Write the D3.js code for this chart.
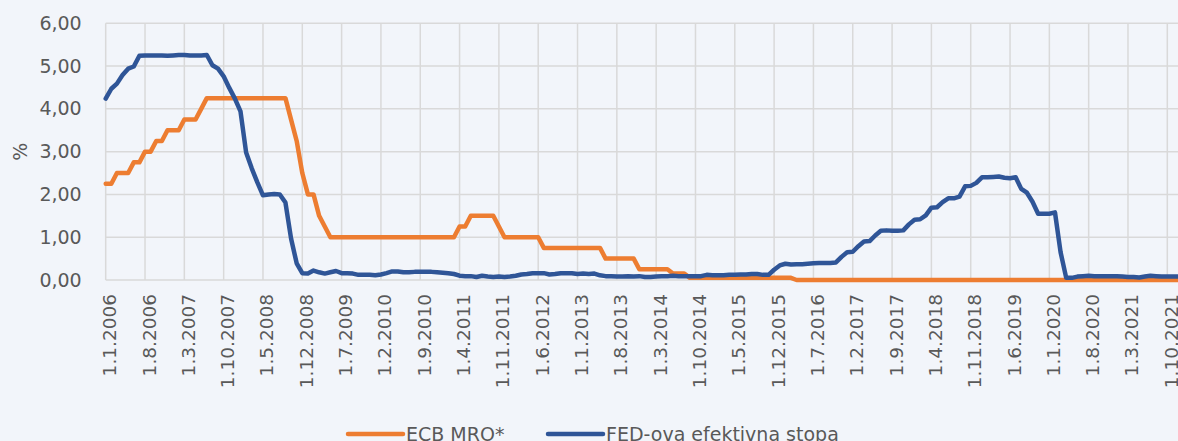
<!DOCTYPE html>
<html>
<head>
<meta charset="utf-8">
<script src="https://cdn.jsdelivr.net/npm/d3@7"></script>
<style>
  html, body { margin: 0; padding: 0; background: #f2f5fa; overflow: hidden; }
  svg { display: block; }
  text { font-family: "DejaVu Sans", sans-serif; fill: #595959; }
</style>
</head>
<body>
<div id="chart"></div>
<script>
// mjesečni podaci, siječanj 2006 – prosinac 2021
const months = d3.timeMonth.range(new Date(2006, 0, 1), new Date(2022, 0, 1));
const fmt = d => `1.${d.getMonth() + 1}.${d.getFullYear()}`;
const categories = months.map(fmt);

const tickLabels = [
  '1.1.2006', '1.8.2006', '1.3.2007', '1.10.2007', '1.5.2008', '1.12.2008', '1.7.2009',
  '1.2.2010', '1.9.2010', '1.4.2011', '1.11.2011', '1.6.2012', '1.1.2013', '1.8.2013',
  '1.3.2014', '1.10.2014', '1.5.2015', '1.12.2015', '1.7.2016', '1.2.2017', '1.9.2017',
  '1.4.2018', '1.11.2018', '1.6.2019', '1.1.2020', '1.8.2020', '1.3.2021', '1.10.2021'
];
const yTicks = [0, 1, 2, 3, 4, 5, 6];

const ecbMro = [
  2.25, 2.25, 2.50, 2.50, 2.50, 2.75, 2.75, 3.00, 3.00, 3.25, 3.25, 3.50, // 2006
  3.50, 3.50, 3.75, 3.75, 3.75, 4.00, 4.25, 4.25, 4.25, 4.25, 4.25, 4.25, // 2007
  4.25, 4.25, 4.25, 4.25, 4.25, 4.25, 4.25, 4.25, 4.25, 3.75, 3.25, 2.50, // 2008
  2.00, 2.00, 1.50, 1.25, 1.00, 1.00, 1.00, 1.00, 1.00, 1.00, 1.00, 1.00, // 2009
  1.00, 1.00, 1.00, 1.00, 1.00, 1.00, 1.00, 1.00, 1.00, 1.00, 1.00, 1.00, // 2010
  1.00, 1.00, 1.00, 1.25, 1.25, 1.50, 1.50, 1.50, 1.50, 1.50, 1.25, 1.00, // 2011
  1.00, 1.00, 1.00, 1.00, 1.00, 1.00, 0.75, 0.75, 0.75, 0.75, 0.75, 0.75, // 2012
  0.75, 0.75, 0.75, 0.75, 0.75, 0.50, 0.50, 0.50, 0.50, 0.50, 0.50, 0.25, // 2013
  0.25, 0.25, 0.25, 0.25, 0.25, 0.15, 0.15, 0.15, 0.05, 0.05, 0.05, 0.05, // 2014
  0.05, 0.05, 0.05, 0.05, 0.05, 0.05, 0.05, 0.05, 0.05, 0.05, 0.05, 0.05, // 2015
  0.05, 0.05, 0.05, 0.00, 0.00, 0.00, 0.00, 0.00, 0.00, 0.00, 0.00, 0.00, // 2016
  0.00, 0.00, 0.00, 0.00, 0.00, 0.00, 0.00, 0.00, 0.00, 0.00, 0.00, 0.00, // 2017
  0.00, 0.00, 0.00, 0.00, 0.00, 0.00, 0.00, 0.00, 0.00, 0.00, 0.00, 0.00, // 2018
  0.00, 0.00, 0.00, 0.00, 0.00, 0.00, 0.00, 0.00, 0.00, 0.00, 0.00, 0.00, // 2019
  0.00, 0.00, 0.00, 0.00, 0.00, 0.00, 0.00, 0.00, 0.00, 0.00, 0.00, 0.00, // 2020
  0.00, 0.00, 0.00, 0.00, 0.00, 0.00, 0.00, 0.00, 0.00, 0.00, 0.00, 0.00  // 2021
];

const fedRate = [
  4.24, 4.47, 4.59, 4.79, 4.94, 4.99, 5.24, 5.25, 5.25, 5.25, 5.25, 5.24, // 2006
  5.25, 5.26, 5.26, 5.25, 5.25, 5.25, 5.26, 5.02, 4.94, 4.76, 4.49, 4.24, // 2007
  3.94, 2.98, 2.61, 2.28, 1.98, 2.00, 2.01, 2.00, 1.81, 0.97, 0.39, 0.16, // 2008
  0.15, 0.22, 0.18, 0.15, 0.18, 0.21, 0.16, 0.16, 0.15, 0.12, 0.12, 0.12, // 2009
  0.11, 0.13, 0.16, 0.20, 0.20, 0.18, 0.18, 0.19, 0.19, 0.19, 0.19, 0.18, // 2010
  0.17, 0.16, 0.14, 0.10, 0.09, 0.09, 0.07, 0.10, 0.08, 0.07, 0.08, 0.07, // 2011
  0.08, 0.10, 0.13, 0.14, 0.16, 0.16, 0.16, 0.13, 0.14, 0.16, 0.16, 0.16, // 2012
  0.14, 0.15, 0.14, 0.15, 0.11, 0.09, 0.09, 0.08, 0.08, 0.09, 0.08, 0.09, // 2013
  0.07, 0.07, 0.08, 0.09, 0.09, 0.10, 0.09, 0.09, 0.09, 0.09, 0.09, 0.12, // 2014
  0.11, 0.11, 0.11, 0.12, 0.12, 0.13, 0.13, 0.14, 0.14, 0.12, 0.12, 0.24, // 2015
  0.34, 0.38, 0.36, 0.37, 0.37, 0.38, 0.39, 0.40, 0.40, 0.40, 0.41, 0.54, // 2016
  0.65, 0.66, 0.79, 0.90, 0.91, 1.04, 1.15, 1.16, 1.15, 1.15, 1.16, 1.30, // 2017
  1.41, 1.42, 1.51, 1.69, 1.70, 1.82, 1.91, 1.91, 1.95, 2.19, 2.20, 2.27, // 2018
  2.40, 2.40, 2.41, 2.42, 2.39, 2.38, 2.40, 2.13, 2.04, 1.83, 1.55, 1.55, // 2019
  1.55, 1.58, 0.65, 0.05, 0.05, 0.08, 0.09, 0.10, 0.09, 0.09, 0.09, 0.09, // 2020
  0.09, 0.08, 0.07, 0.07, 0.06, 0.08, 0.10, 0.09, 0.08, 0.08, 0.08, 0.08  // 2021
];

const seriesNames = ['ECB MRO*', 'FED-ova efektivna stopa'];
const seriesColors = ['#ed7d31', '#2f5597'];

// dimenzije
const W = 1178, H = 441;
const step = 5.617;
const plotLeft = 105.7, plotTop = 23.3, plotBottom = 280;

const svg = d3.select('#chart').append('svg')
  .attr('width', W)
  .attr('height', H);

const x = d3.scalePoint()
  .domain(categories)
  .range([plotLeft, plotLeft + step * (categories.length - 1)]);

const y = d3.scaleLinear()
  .domain([0, 6])
  .range([plotBottom, plotTop]);

const comma = v => d3.format('.2f')(v).replace('.', ',');

// mreža
const grid = svg.append('g').attr('stroke', '#d9d9d9').attr('stroke-width', 1.5);
grid.selectAll('line.h').data(yTicks).join('line')
  .attr('class', 'h')
  .attr('x1', plotLeft).attr('x2', W)
  .attr('y1', d => y(d)).attr('y2', d => y(d));
grid.selectAll('line.v').data(tickLabels).join('line')
  .attr('class', 'v')
  .attr('x1', d => x(d)).attr('x2', d => x(d))
  .attr('y1', plotTop).attr('y2', plotBottom);

// os y
const yAxis = svg.append('g')
  .attr('transform', `translate(${plotLeft - 24},0)`)
  .call(d3.axisLeft(y).tickValues(yTicks).tickFormat(comma).tickSize(0).tickPadding(0));
yAxis.select('.domain').remove();
yAxis.selectAll('text')
  .attr('font-family', '"DejaVu Sans", sans-serif')
  .attr('font-size', 19)
  .attr('fill', '#595959');

svg.append('text')
  .attr('transform', `translate(20,${(plotTop + plotBottom) / 2}) rotate(-90)`)
  .attr('text-anchor', 'middle')
  .attr('dy', '0.35em')
  .attr('font-size', 19)
  .text('%');

// os x, zarotirane oznake
const xAxis = svg.append('g')
  .attr('transform', `translate(0,${plotBottom})`)
  .call(d3.axisBottom(x).tickValues(tickLabels).tickSize(0).tickPadding(0));
xAxis.select('.domain').remove();
xAxis.selectAll('text')
  .attr('font-family', '"DejaVu Sans", sans-serif')
  .attr('font-size', 18.5)
  .attr('fill', '#595959')
  .attr('text-anchor', 'end')
  .attr('transform', 'translate(3.5,14) rotate(-90)')
  .attr('x', 0)
  .attr('y', 0)
  .attr('dy', '0.35em');

// linije
const line = d3.line()
  .x((d, i) => x(categories[i]))
  .y(d => y(d));

[ecbMro, fedRate].forEach((values, k) => {
  svg.append('path')
    .datum(values)
    .attr('fill', 'none')
    .attr('stroke', seriesColors[k])
    .attr('stroke-width', 4.5)
    .attr('stroke-linejoin', 'round')
    .attr('stroke-linecap', 'round')
    .attr('d', line);
});

// legenda
const legendX = [348, 548];
const legend = svg.append('g');
seriesNames.forEach((name, k) => {
  legend.append('line')
    .attr('x1', legendX[k]).attr('x2', legendX[k] + 55)
    .attr('y1', 434).attr('y2', 434)
    .attr('stroke', seriesColors[k])
    .attr('stroke-width', 4.5)
    .attr('stroke-linecap', 'round');
  legend.append('text')
    .attr('x', legendX[k] + 58)
    .attr('y', 441)
    .attr('font-size', 19)
    .text(name);
});
</script>
</body>
</html>
